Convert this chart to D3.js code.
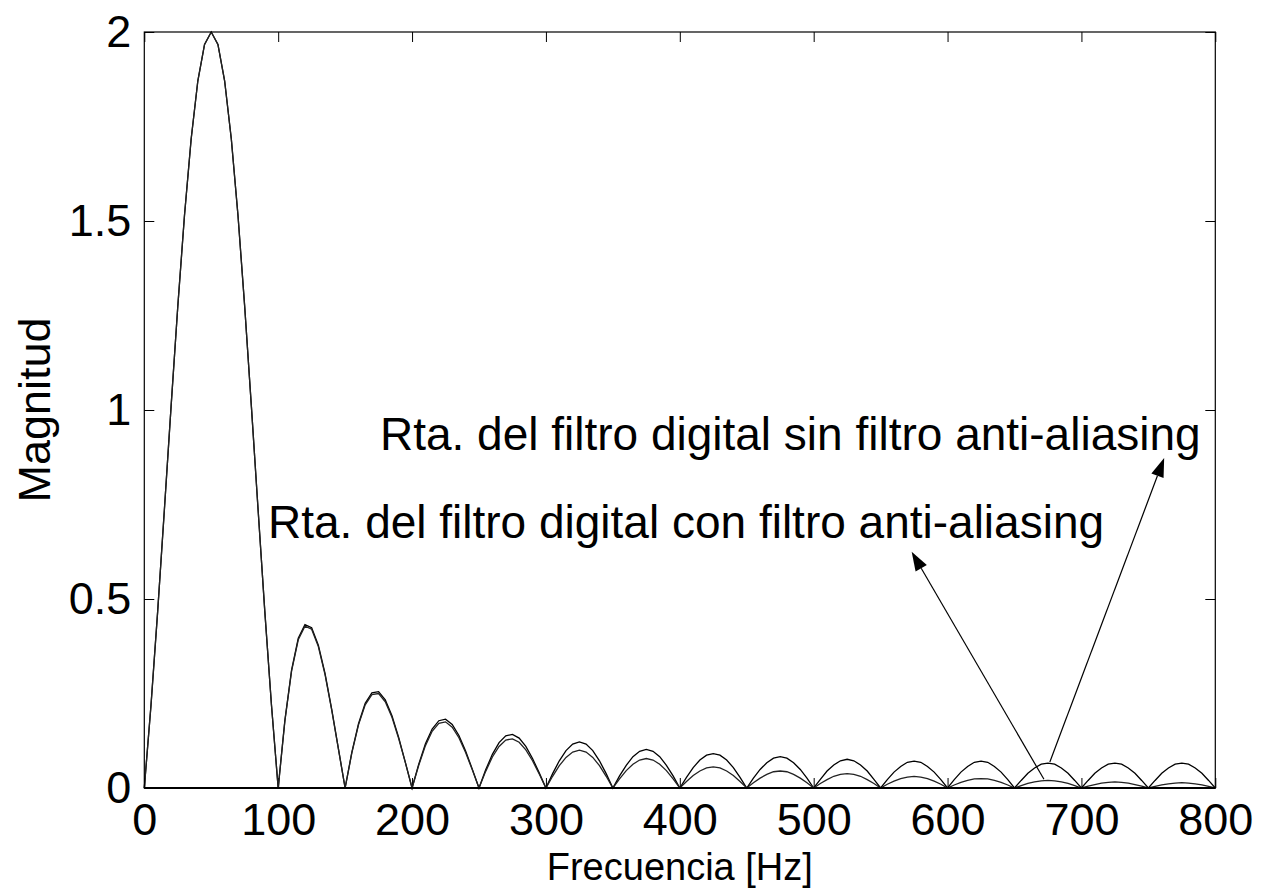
<!DOCTYPE html>
<html>
<head>
<meta charset="utf-8">
<script src="https://cdn.jsdelivr.net/npm/d3@7"></script>
<style>
    body { margin: 0; background: #fff; }
    text { font-family: "Liberation Sans", Arial, sans-serif; fill: #000; }
</style>
</head>
<body>
<div id="chart-area"></div>
<script>
// Frequency grid (Hz), one sample every 5 Hz
var freq = d3.range(0, 805, 5);

// Rta. del filtro digital sin filtro anti-aliasing
var sinAA = [
    0, .219, .468, .736, 1.009, 1.273, 1.514, 1.717, 1.871, 1.967, 2.0, 1.967, 1.871, 1.717, 1.514, 1.273, 1.009, .736, .468, .219, 0,
    .179, .312, .396, .432, .424, .378, .303, .208, .104, 0,
    .094, .170, .224, .252, .255, .233, .191, .134, .068, 0,
    .063, .117, .156, .178, .182, .168, .139, .098, .050, 0,
    .048, .089, .120, .138, .142, .132, .110, .078, .040, 0,
    .038, .072, .099, .116, .122, .116, .099, .072, .038, 0,
    .032, .060, .083, .097, .102, .097, .083, .060, .032, 0,
    .028, .054, .074, .087, .091, .087, .074, .054, .028, 0,
    .026, .049, .067, .079, .083, .079, .067, .049, .026, 0,
    .023, .045, .061, .072, .076, .072, .061, .045, .023, 0,
    .022, .042, .057, .068, .071, .068, .057, .042, .022, 0,
    .022, .042, .057, .068, .071, .068, .057, .042, .022, 0,
    .020, .039, .053, .063, .066, .063, .053, .039, .020, 0,
    .020, .039, .053, .063, .066, .063, .053, .039, .020, 0,
    .020, .039, .053, .063, .066, .063, .053, .039, .020, 0
];

// Rta. del filtro digital con filtro anti-aliasing
var conAA = [
    0, .219, .468, .736, 1.009, 1.273, 1.514, 1.717, 1.871, 1.967, 2.0, 1.967, 1.871, 1.717, 1.514, 1.273, 1.009, .736, .468, .219, 0,
    .177, .309, .392, .428, .420, .374, .300, .206, .103, 0,
    .092, .167, .220, .247, .250, .228, .187, .131, .067, 0,
    .060, .112, .150, .171, .175, .161, .133, .094, .048, 0,
    .044, .082, .110, .127, .130, .121, .101, .072, .037, 0,
    .031, .059, .081, .095, .100, .095, .081, .059, .031, 0,
    .024, .046, .063, .074, .078, .074, .063, .046, .024, 0,
    .017, .033, .045, .053, .056, .053, .045, .033, .017, 0,
    .014, .026, .036, .043, .045, .043, .036, .026, .014, 0,
    .012, .022, .031, .036, .038, .036, .031, .022, .012, 0,
    .010, .018, .025, .029, .031, .029, .025, .018, .010, 0,
    .008, .015, .020, .024, .025, .024, .020, .015, .008, 0,
    .006, .012, .016, .019, .020, .019, .016, .012, .006, 0,
    .005, .009, .013, .015, .016, .015, .013, .009, .005, 0,
    .004, .008, .011, .013, .014, .013, .011, .008, .004, 0
];

var xTicks = [0, 100, 200, 300, 400, 500, 600, 700, 800];
var yTicks = [0, 0.5, 1, 1.5, 2];
var yTickLabels = ["0", "0.5", "1", "1.5", "2"];

// annotations: text start (Hz, magnitude), arrow tip and tail
var notes = ["Rta. del filtro digital sin filtro anti-aliasing",
             "Rta. del filtro digital con filtro anti-aliasing"];
var noteX = [176, 92.4];
var noteY = [0.894, 0.661];
var tipX = [761.8, 573.2];
var tipY = [0.873, 0.625];
var tailX = [676.4, 672];
var tailY = [0.069, 0.023];

var margin = { left: 144.3, right: 47.7, top: 32, bottom: 100 };
var width = 1263, height = 888;
var ChartWidth = width - margin.left - margin.right;
var ChartHeight = height - margin.top - margin.bottom;

var svg = d3.select("#chart-area")
    .append("svg")
        .attr("width", width)
        .attr("height", height);
var g = svg.append("g")
    .attr("transform", "translate(" + margin.left + ", " + margin.top + ")");

//Scales
var x = d3.scaleLinear().domain([0, 800]).range([0, ChartWidth]);
var y = d3.scaleLinear().domain([0, 2]).range([ChartHeight, 0]);

//Axes (ticks point inward like MATLAB)
var fontSize = "45px";
var xAxisCall = d3.axisBottom(x).tickValues(xTicks)
    .tickSizeInner(-10).tickSizeOuter(0).tickPadding(15.5)
    .tickFormat(function(d){ return d; });
var xAxis = g.append("g")
    .attr("transform", "translate(0, " + ChartHeight + ")")
    .call(xAxisCall);

var yAxisCall = d3.axisLeft(y).tickValues(yTicks)
    .tickSizeInner(-10).tickSizeOuter(0).tickPadding(13)
    .tickFormat(function(d, i){ return yTickLabels[i]; });
var yAxis = g.append("g").call(yAxisCall);

var xTopCall = d3.axisTop(x).tickValues(xTicks).tickSizeInner(-10).tickSizeOuter(0).tickFormat("");
var xTop = g.append("g").call(xTopCall);
var yRightCall = d3.axisRight(y).tickValues(yTicks).tickSizeInner(-10).tickSizeOuter(0).tickFormat("");
var yRight = g.append("g").attr("transform", "translate(" + ChartWidth + ", 0)").call(yRightCall);

[xAxis, yAxis, xTop, yRight].forEach(function(a) {
    a.select(".domain").remove();
    a.selectAll("line").attr("stroke", "#000").attr("stroke-width", 1);
    a.selectAll("text").attr("font-size", fontSize).attr("fill", "#000")
        .attr("font-family", "Liberation Sans, Arial, sans-serif");
});

//Curves
var line = d3.line()
    .x(function(d, i){ return x(freq[i]); })
    .y(function(d){ return y(d); });

g.append("path")
    .datum(sinAA)
    .attr("fill", "none")
    .attr("stroke", "#000")
    .attr("stroke-width", 1.3)
    .attr("d", line);
g.append("path")
    .datum(conAA)
    .attr("fill", "none")
    .attr("stroke", "#222")
    .attr("stroke-width", 1.3)
    .attr("d", line);

//Box
g.append("rect")
    .attr("x", 0).attr("y", 0)
    .attr("width", ChartWidth).attr("height", ChartHeight)
    .attr("fill", "none").attr("stroke", "#000").attr("stroke-width", 1.2);
g.append("line")
    .attr("x1", 0).attr("x2", ChartWidth)
    .attr("y1", ChartHeight).attr("y2", ChartHeight)
    .attr("stroke", "#000").attr("stroke-width", 2.2);

//Annotations
notes.forEach(function(note, i) {
    g.append("text")
        .attr("x", x(noteX[i]))
        .attr("y", y(noteY[i]))
        .attr("font-size", "46px")
        .text(note);

    var x1 = x(tailX[i]), y1 = y(tailY[i]);
    var x2 = x(tipX[i]), y2 = y(tipY[i]);
    var dx = x2 - x1, dy = y2 - y1, len = Math.sqrt(dx*dx + dy*dy);
    var ux = dx / len, uy = dy / len;
    var hl = 19, hw = 6.5;
    g.append("line")
        .attr("x1", x1).attr("y1", y1)
        .attr("x2", x2 - ux*hl).attr("y2", y2 - uy*hl)
        .attr("stroke", "#000").attr("stroke-width", 1.2);
    var bx = x2 - ux*hl, by = y2 - uy*hl;
    g.append("path")
        .attr("d", "M" + x2 + "," + y2 +
            "L" + (bx - uy*hw) + "," + (by + ux*hw) +
            "L" + (bx + uy*hw) + "," + (by - ux*hw) + "Z")
        .attr("fill", "#000");
});

//X Axis Label
svg.append("text")
    .attr("x", margin.left + ChartWidth / 2)
    .attr("y", 879.5)
    .attr("font-size", "38px")
    .attr("text-anchor", "middle")
    .text("Frecuencia [Hz]");
//Y Axis Label
svg.append("text")
    .attr("transform", "translate(50, " + (margin.top + ChartHeight / 2) + ") rotate(-90)")
    .attr("font-size", fontSize)
    .attr("text-anchor", "middle")
    .text("Magnitud");
</script>
</body>
</html>
